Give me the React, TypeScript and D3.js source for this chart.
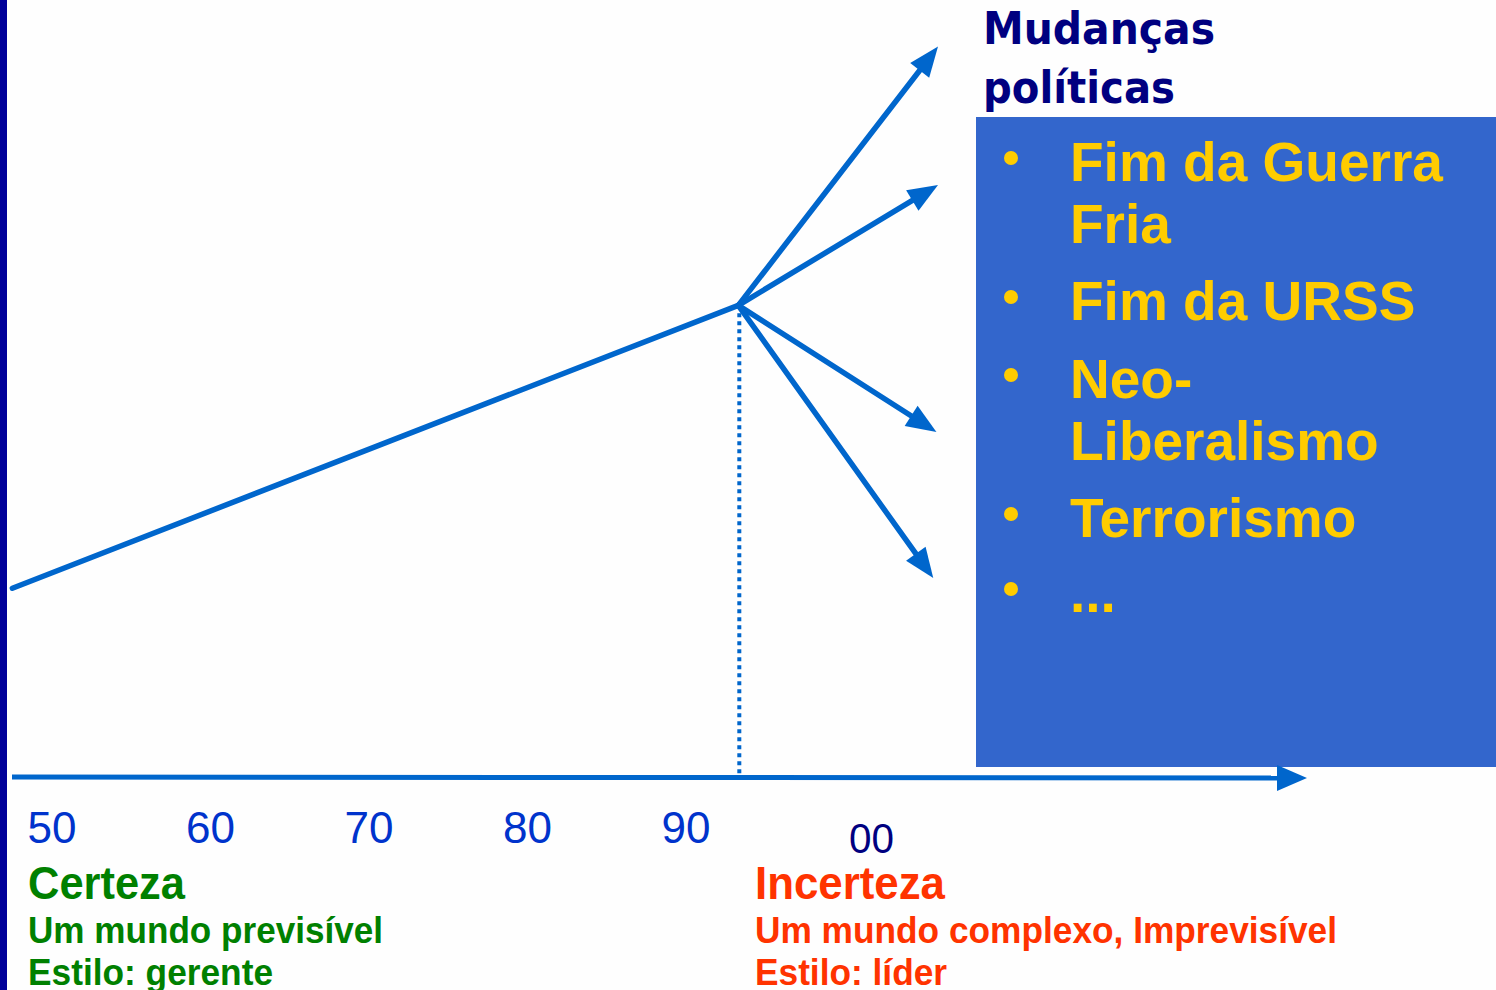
import React from "react";
import * as d3 from "d3";

const decades = [1950, 1960, 1970, 1980, 1990];
const decadeLabels = ["50", "60", "70", "80", "90"];
const lastLabel = "00";
// trend line: [year, value]
const trend: [number, number][] = [
  [1947.5, 24.3],
  [1993.3, 60.7],
];
// four diverging futures: [year, value] of arrow tips
const futures: [number, number][] = [
  [2005.9, 94.0],
  [2005.9, 76.2],
  [2005.8, 44.4],
  [2005.6, 25.6],
];
const boxTitle = ["Mudanças", "políticas"];
const bulletItems = [["Fim da Guerra", "Fria"], ["Fim da URSS"], ["Neo-", "Liberalismo"], ["Terrorismo"], ["..."]];
const leftTexts = ["Certeza", "Um mundo previsível", "Estilo: gerente"];
const rightTexts = ["Incerteza", "Um mundo complexo, Imprevisível", "Estilo: líder"];

const x = d3.scaleLinear().domain([1950, 1990]).range([52, 686]);
const y = d3.scaleLinear().domain([0, 100]).range([777, 0]);

const BLUE = "#0066CC";

function arrow(x1: number, y1: number, x2: number, y2: number, len = 30, half = 12) {
  const a = Math.atan2(y2 - y1, x2 - x1);
  const bx = x2 - len * Math.cos(a);
  const by = y2 - len * Math.sin(a);
  const px = -Math.sin(a) * half;
  const py = Math.cos(a) * half;
  return {
    line: d3.line()([[x1, y1], [bx + Math.cos(a) * 4, by + Math.sin(a) * 4]]) as string,
    head: `M${x2},${y2}L${bx + px},${by + py}L${bx - px},${by - py}Z`,
  };
}

export default function App() {
  const origin = trend[1];
  const ox = x(origin[0]);
  const oy = y(origin[1]);
  const axisY = y(0);
  const axis = arrow(12, axisY, 1307, axisY + 1, 30, 13);
  const lineGen = d3.line<[number, number]>().x((d) => x(d[0])).y((d) => y(d[1]));
  const itemBase = [181, 320, 398, 537, 612];
  return (
    <svg
      width={1496}
      height={990}
      style={{ position: "fixed", left: 0, top: 0, background: "#ffffff" }}
    >
      <rect x={0} y={0} width={1496} height={990} fill="#FEFEFE" />
      <rect x={0} y={0} width={7} height={990} fill="#000099" />
      {/* trend */}
      <path d={lineGen(trend) as string} stroke={BLUE} strokeWidth={5.5} fill="none" strokeLinecap="round" />
      {/* dotted vertical */}
      <line x1={ox + 1} y1={oy + 8} x2={ox + 1} y2={axisY - 2} stroke={BLUE} strokeWidth={4} strokeDasharray="4,4" />
      {futures.map((f, i) => {
        const a = arrow(ox, oy, x(f[0]), y(f[1]));
        return (
          <g key={i}>
            <path d={a.line} stroke={BLUE} strokeWidth={5.5} fill="none" strokeLinecap="round" />
            <path d={a.head} fill={BLUE} />
          </g>
        );
      })}
      {/* box */}
      <rect x={976} y={117} width={520} height={650} fill="#3366CC" />
      {/* axis */}
      <path d={axis.line} stroke={BLUE} strokeWidth={5} fill="none" />
      <path d={axis.head} fill={BLUE} />
      {/* title */}
      {boxTitle.map((t, i) => (
        <text key={t} x={983} y={44 + i * 59} fill="#000080" fontFamily="DejaVu Sans, Verdana, sans-serif" fontWeight="bold" fontSize={44}
          textLength={i === 0 ? 232 : 192} lengthAdjust="spacingAndGlyphs">{t}</text>
      ))}
      {/* bullets */}
      {bulletItems.map((it, i) => (
        <g key={i}>
          <circle cx={1011} cy={itemBase[i] - 23} r={7} fill="#FFCC00" />
          {it.map((ln, j) => (
            <text key={ln} x={1070} y={itemBase[i] + j * 62} fill="#FFCC00" fontFamily="Liberation Sans, Arial, sans-serif" fontWeight="bold" fontSize={55}>{ln}</text>
          ))}
        </g>
      ))}
      {/* decade labels */}
      {decades.map((d, i) => (
        <text key={d} x={x(d)} y={843} textAnchor="middle" fill="#0033CC" fontFamily="Liberation Sans, Arial, sans-serif" fontSize={45}
          textLength={49} lengthAdjust="spacingAndGlyphs">{decadeLabels[i]}</text>
      ))}
      <text x={x(2000) + 27} y={853} textAnchor="middle" fill="#000080" fontFamily="Liberation Sans Narrow, Liberation Sans, Arial, sans-serif" fontSize={43}
        textLength={45} lengthAdjust="spacingAndGlyphs">{lastLabel}</text>
      {/* left texts */}
      <text x={28} y={899} fill="#008000" fontFamily="Liberation Sans, Arial, sans-serif" fontWeight="bold" fontSize={46} textLength={157} lengthAdjust="spacingAndGlyphs">{leftTexts[0]}</text>
      <text x={28} y={943} fill="#008000" fontFamily="Liberation Sans, Arial, sans-serif" fontWeight="bold" fontSize={37} textLength={355} lengthAdjust="spacingAndGlyphs">{leftTexts[1]}</text>
      <text x={28} y={985} fill="#008000" fontFamily="Liberation Sans, Arial, sans-serif" fontWeight="bold" fontSize={37} textLength={245} lengthAdjust="spacingAndGlyphs">{leftTexts[2]}</text>
      {/* right texts */}
      <text x={755} y={899} fill="#FF3300" fontFamily="Liberation Sans, Arial, sans-serif" fontWeight="bold" fontSize={46} textLength={190} lengthAdjust="spacingAndGlyphs">{rightTexts[0]}</text>
      <text x={755} y={943} fill="#FF3300" fontFamily="Liberation Sans, Arial, sans-serif" fontWeight="bold" fontSize={37} textLength={582} lengthAdjust="spacingAndGlyphs">{rightTexts[1]}</text>
      <text x={755} y={985} fill="#FF3300" fontFamily="Liberation Sans, Arial, sans-serif" fontWeight="bold" fontSize={37} textLength={192} lengthAdjust="spacingAndGlyphs">{rightTexts[2]}</text>
    </svg>
  );
}
